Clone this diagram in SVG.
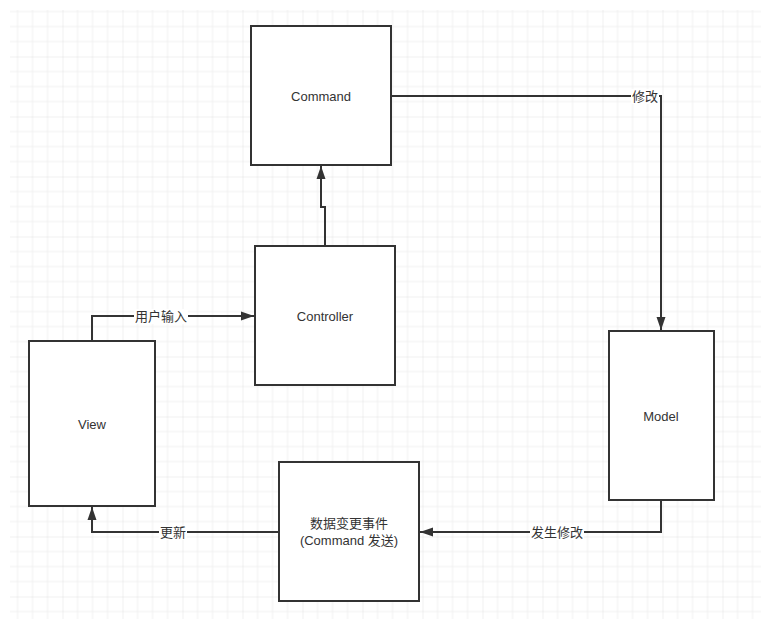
<svg xmlns="http://www.w3.org/2000/svg" width="761" height="619" viewBox="0 0 761 619">
  <style>
    .box { fill: #ffffff; stroke: #333333; stroke-width: 2; }
    .edge { fill: none; stroke: #333333; stroke-width: 2; }
    .txt { font-family: "Liberation Sans", "Noto Sans CJK SC", sans-serif; font-size: 13px; fill: #333333; text-anchor: middle; dominant-baseline: central; }
    .lbl-bg { fill: #ffffff; }
  </style>
  <defs>
    <pattern id="grid" patternUnits="userSpaceOnUse" x="2" y="-4" width="60" height="60">
      <path d="M15 0V60M30 0V60M45 0V60M0 15H60M0 30H60M0 45H60" stroke="#f0f0f0" stroke-width="1" fill="none"/>
      <path d="M0 0V60M0 0H60" stroke="#e2e2e2" stroke-width="1" fill="none"/>
    </pattern>
    <marker id="arrow" markerUnits="userSpaceOnUse" markerWidth="14" markerHeight="10" refX="13" refY="5" orient="auto">
      <path d="M0 0.5L13 5L0 9.5Z" fill="#333333"/>
    </marker>
  </defs>

  <rect width="761" height="619" fill="#ffffff"/>
  <rect x="9" y="9" width="752" height="610" fill="url(#grid)" shape-rendering="crispEdges" transform="translate(0.5 0.5)"/>

  <g id="connectors">
    <!-- Command -> Model -->
    <path class="edge" d="M391 96H661V330" marker-end="url(#arrow)"/>
    <rect class="lbl-bg" x="631" y="89" width="28" height="15"/>
    <text class="txt" x="645" y="96">修改</text>

    <!-- Controller -> Command -->
    <path class="edge" d="M325 246V207H321V166" marker-end="url(#arrow)"/>

    <!-- View -> Controller -->
    <path class="edge" d="M92 341V316H254" marker-end="url(#arrow)"/>
    <rect class="lbl-bg" x="134" y="309" width="54" height="15"/>
    <text class="txt" x="161" y="316">用户输入</text>

    <!-- Model -> event -->
    <path class="edge" d="M661 500V532H420" marker-end="url(#arrow)"/>
    <rect class="lbl-bg" x="530" y="525" width="54" height="15"/>
    <text class="txt" x="557" y="532">发生修改</text>

    <!-- event -> View -->
    <path class="edge" d="M279 532H92V507" marker-end="url(#arrow)"/>
    <rect class="lbl-bg" x="159" y="525" width="28" height="15"/>
    <text class="txt" x="173" y="532">更新</text>
  </g>

  <g id="command">
    <rect class="box" x="251" y="26" width="140" height="139"/>
    <text class="txt" x="321" y="96">Command</text>
  </g>

  <g id="controller">
    <rect class="box" x="255" y="246" width="140" height="139"/>
    <text class="txt" x="325" y="316">Controller</text>
  </g>

  <g id="view">
    <rect class="box" x="29" y="341" width="126" height="165"/>
    <text class="txt" x="92" y="424">View</text>
  </g>

  <g id="model">
    <rect class="box" x="609" y="331" width="105" height="169"/>
    <text class="txt" x="661" y="416">Model</text>
  </g>

  <g id="change-event">
    <rect class="box" x="279" y="462" width="140" height="139"/>
    <text class="txt" x="349" y="523">数据变更事件</text>
    <text class="txt" x="349" y="540">(Command 发送)</text>
  </g>
</svg>
